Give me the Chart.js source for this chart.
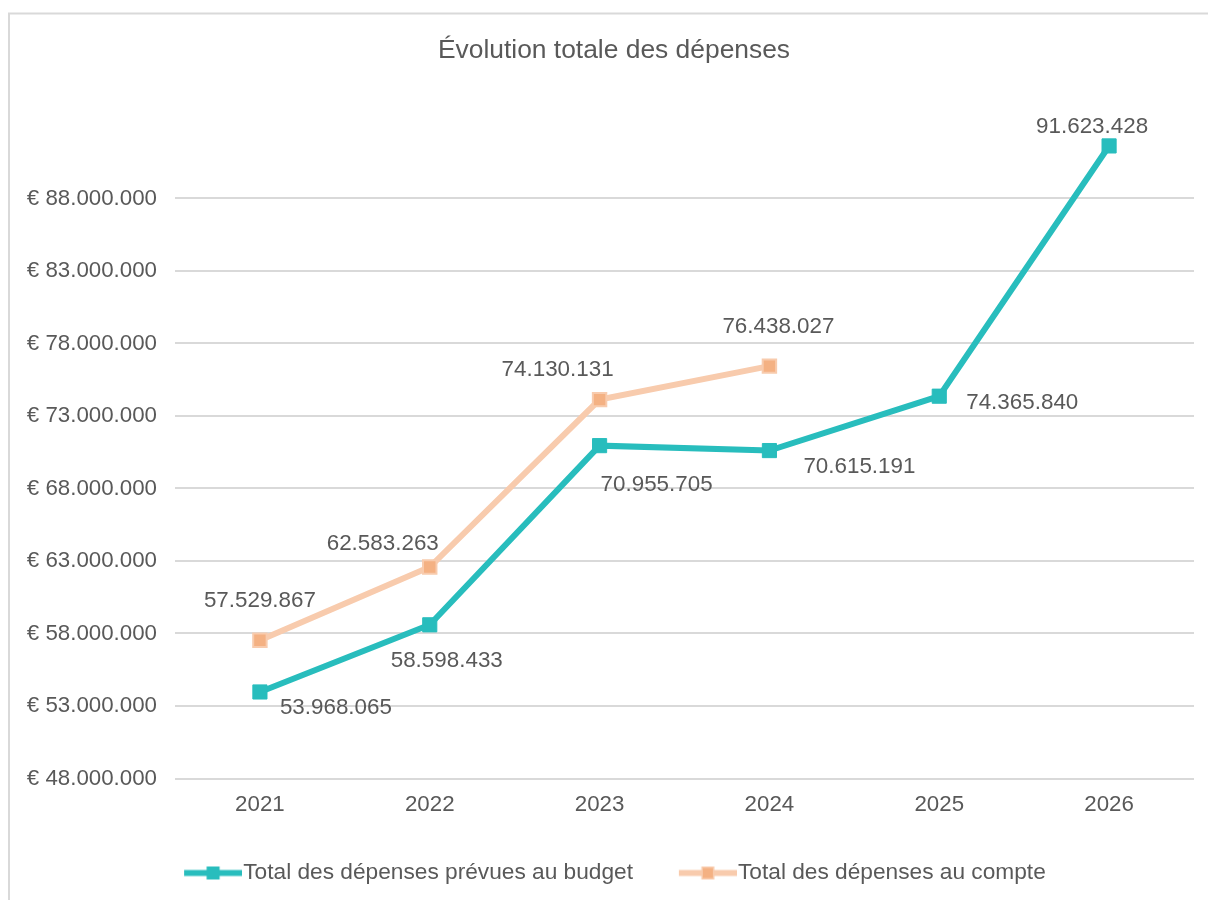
<!DOCTYPE html>
<html>
<head>
<meta charset="utf-8">
<script src="https://cdn.jsdelivr.net/npm/chart.js@4.4.1/dist/chart.umd.min.js"></script>
<style>
html, body { margin: 0; padding: 0; background: #ffffff; }
#wrap { position: absolute; left: 0; top: 0; width: 1208px; height: 900px; }
</style>
</head>
<body>
<div id="wrap"><canvas id="chart" width="1208" height="900"></canvas></div>
<script>
// ---- data ----
const chartTitle = 'Évolution totale des dépenses';
const years = ['2021', '2022', '2023', '2024', '2025', '2026'];
const budgetName = 'Total des dépenses prévues au budget';
const actualName = 'Total des dépenses au compte';
const budgetValues = [53968065, 58598433, 70955705, 70615191, 74365840, 91623428];
const actualValues = [57529867, 62583263, 74130131, 76438027, null, null];
const yMin = 48000000;
const yMax = 93000000;
const yStep = 5000000;

// ---- styles ----
const FONT = '"Liberation Sans", Arial, Helvetica, sans-serif';
const TEXT = '#595959';
const GRID = '#D9D9D9';
const TEAL = '#28BDBD';
const PEACH_LINE = '#F8CBAD';
const PEACH_MARK = '#F4B183';
// label offsets (pixels, relative to the point) — purely presentational
const budgetLabelOffsets = [[76, 16], [17, 36], [57, 39], [90, 16], [83, 7], [-17, -19]];
const actualLabelOffsets = [[0, -39], [-47, -23], [-42, -30], [9, -39], [0, 0], [0, 0]];

function fmt(n) {
  return String(Math.round(n)).replace(/\B(?=(\d{3})+(?!\d))/g, '.');
}

function legendImage(lineColor, markFill, markBorder) {
  const c = document.createElement('canvas');
  c.width = 70; c.height = 15;
  const g = c.getContext('2d');
  g.fillStyle = lineColor;
  g.fillRect(12, 4.5, 58, 6);
  g.fillStyle = markBorder;
  g.fillRect(34.5, 1, 13, 13);
  g.fillStyle = markFill;
  g.fillRect(36, 2.5, 10, 10);
  return c;
}
const legendImgs = [
  legendImage(TEAL, TEAL, TEAL),
  legendImage(PEACH_LINE, PEACH_MARK, PEACH_LINE)
];

const framePlugin = {
  id: 'frame',
  beforeDraw(chart) {
    const ctx = chart.ctx;
    ctx.save();
    ctx.fillStyle = '#ffffff';
    ctx.fillRect(0, 0, chart.width, chart.height);
    ctx.strokeStyle = GRID;
    ctx.lineWidth = 2;
    ctx.beginPath();
    ctx.moveTo(9, chart.height + 5);
    ctx.lineTo(9, 13.5);
    ctx.lineTo(chart.width + 5, 13.5);
    ctx.stroke();
    ctx.restore();
  }
};

const valueLabelPlugin = {
  id: 'valueLabels',
  afterDatasetsDraw(chart) {
    const ctx = chart.ctx;
    const offsets = [budgetLabelOffsets, actualLabelOffsets];
    ctx.save();
    ctx.font = '22.4px ' + FONT;
    ctx.fillStyle = TEXT;
    ctx.textAlign = 'center';
    ctx.textBaseline = 'middle';
    chart.data.datasets.forEach((ds, di) => {
      const meta = chart.getDatasetMeta(di);
      meta.data.forEach((pt, i) => {
        const v = ds.data[i];
        if (v === null || v === undefined) return;
        const off = offsets[di][i];
        ctx.fillText(fmt(v), pt.x + off[0], pt.y + off[1]);
      });
    });
    ctx.restore();
  }
};

Chart.defaults.font.family = FONT;
Chart.defaults.color = TEXT;

new Chart(document.getElementById('chart'), {
  type: 'line',
  data: {
    labels: years,
    datasets: [
      {
        label: budgetName,
        data: budgetValues,
        yAxisID: 'y',
        borderColor: TEAL,
        backgroundColor: TEAL,
        borderWidth: 6,
        pointStyle: 'rect',
        pointRadius: 10,
        pointBorderWidth: 1,
        pointBackgroundColor: TEAL,
        pointBorderColor: TEAL,
        tension: 0,
        fill: false
      },
      {
        label: actualName,
        data: actualValues,
        yAxisID: 'y',
        borderColor: PEACH_LINE,
        backgroundColor: PEACH_MARK,
        borderWidth: 6,
        pointStyle: 'rect',
        pointRadius: 9.5,
        pointBorderWidth: 2,
        pointBackgroundColor: PEACH_MARK,
        pointBorderColor: PEACH_LINE,
        tension: 0,
        fill: false
      }
    ]
  },
  options: {
    responsive: false,
    animation: false,
    devicePixelRatio: 1,
    layout: { padding: { left: 20, right: 0, top: 0, bottom: 5.65 } },
    plugins: {
      title: {
        display: true,
        text: chartTitle,
        color: TEXT,
        font: { family: FONT, size: 26.4, weight: 'normal', lineHeight: 1.2 },
        padding: { top: 35, bottom: 59.3 }
      },
      legend: {
        display: true,
        position: 'bottom',
        labels: {
          color: TEXT,
          font: { family: FONT, size: 22.7 },
          usePointStyle: true,
          pointStyleWidth: 49.65,
          padding: 44,
          generateLabels(chart) {
            return chart.data.datasets.map((ds, i) => ({
              text: ds.label,
              fillStyle: 'transparent',
              strokeStyle: 'transparent',
              lineWidth: 0,
              pointStyle: legendImgs[i],
              fontColor: TEXT,
              hidden: false,
              datasetIndex: i
            }));
          }
        }
      },
      tooltip: { enabled: false }
    },
    scales: {
      x: {
        offset: true,
        grid: { display: false, drawTicks: false },
        border: { display: false },
        ticks: { color: TEXT, font: { family: FONT, size: 22.3 }, padding: 13.1 },
        afterFit(scale) { scale.height = 39.15; }
      },
      y: {
        position: 'left',
        min: yMin,
        max: yMax,
        grid: { color: GRID, lineWidth: 2, drawTicks: false },
        border: { display: false },
        ticks: {
          stepSize: yStep,
          color: TEXT,
          font: { family: FONT, size: 22.3 },
          padding: 18,
          callback: (v) => '€ ' + fmt(v)
        },
        afterBuildTicks(scale) {
          scale.ticks = scale.ticks.filter(t => t.value < yMax);
        },
        afterFit(scale) { scale.width = 155; }
      },
      yRight: {
        position: 'right',
        display: true,
        grid: { display: false, drawTicks: false },
        border: { display: false },
        ticks: { display: false },
        afterFit(scale) { scale.width = 14; }
      }
    }
  },
  plugins: [framePlugin, valueLabelPlugin]
});
</script>
</body>
</html>
